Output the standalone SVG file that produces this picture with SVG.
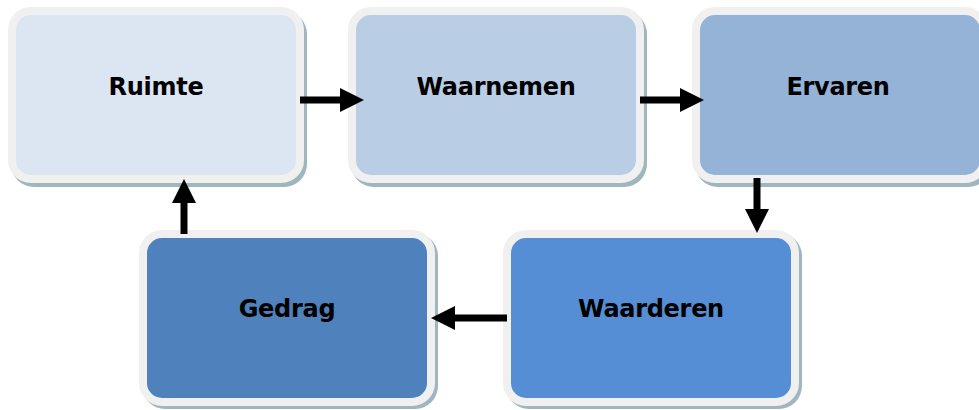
<svg xmlns="http://www.w3.org/2000/svg" width="979" height="410" viewBox="0 0 979 410">
<style>
.shadow{fill:#9fb6bf;}
.box{stroke:#f0f0f0;stroke-width:8;}
.lbl{font-family:"DejaVu Sans",sans-serif;font-weight:bold;font-size:24px;letter-spacing:-0.3px;fill:#000;text-anchor:middle;}
.conn{stroke:#000;stroke-width:7;fill:none;marker-end:url(#ah);}
</style>
<defs>
<marker id="ah" markerUnits="userSpaceOnUse" markerWidth="24" markerHeight="24" refX="0" refY="12" orient="auto" viewBox="0 0 24 24">
<path d="M0,0 L24,12 L0,24 Z" fill="#000"/>
</marker>
</defs>
<rect width="979" height="410" fill="#fff"/>
<g id="node-ruimte">
<rect class="shadow" x="11" y="11" width="296" height="176" rx="23"/>
<rect class="box" x="12" y="11" width="288" height="168" rx="19" fill="#dce6f2"/>
<text class="lbl" x="156" y="95">Ruimte</text>
</g>
<g id="node-waarnemen">
<rect class="shadow" x="351" y="11" width="296" height="176" rx="23"/>
<rect class="box" x="352" y="11" width="288" height="168" rx="19" fill="#b9cde5"/>
<text class="lbl" x="496" y="95">Waarnemen</text>
</g>
<g id="node-ervaren">
<rect class="shadow" x="695" y="11" width="296" height="176" rx="23"/>
<rect class="box" x="696" y="11" width="288" height="168" rx="19" fill="#95b3d7"/>
<text class="lbl" x="838" y="95">Ervaren</text>
</g>
<g id="node-waarderen">
<rect class="shadow" x="506" y="233" width="296" height="176" rx="23"/>
<rect class="box" x="507" y="234" width="288" height="168" rx="19" fill="#558ed5"/>
<text class="lbl" x="651" y="317">Waarderen</text>
</g>
<g id="node-gedrag">
<rect class="shadow" x="142" y="233" width="296" height="176" rx="23"/>
<rect class="box" x="143" y="234" width="288" height="168" rx="19" fill="#4f81bd"/>
<text class="lbl" x="287" y="317">Gedrag</text>
</g>
<g id="connectors">
<line class="conn" x1="300" y1="100" x2="340" y2="100"/>
<line class="conn" x1="640" y1="100" x2="680" y2="100"/>
<line class="conn" x1="757" y1="178" x2="757" y2="209"/>
<line class="conn" x1="507" y1="318" x2="455" y2="318"/>
<line class="conn" x1="184" y1="234" x2="184" y2="203"/>
</g>
</svg>
